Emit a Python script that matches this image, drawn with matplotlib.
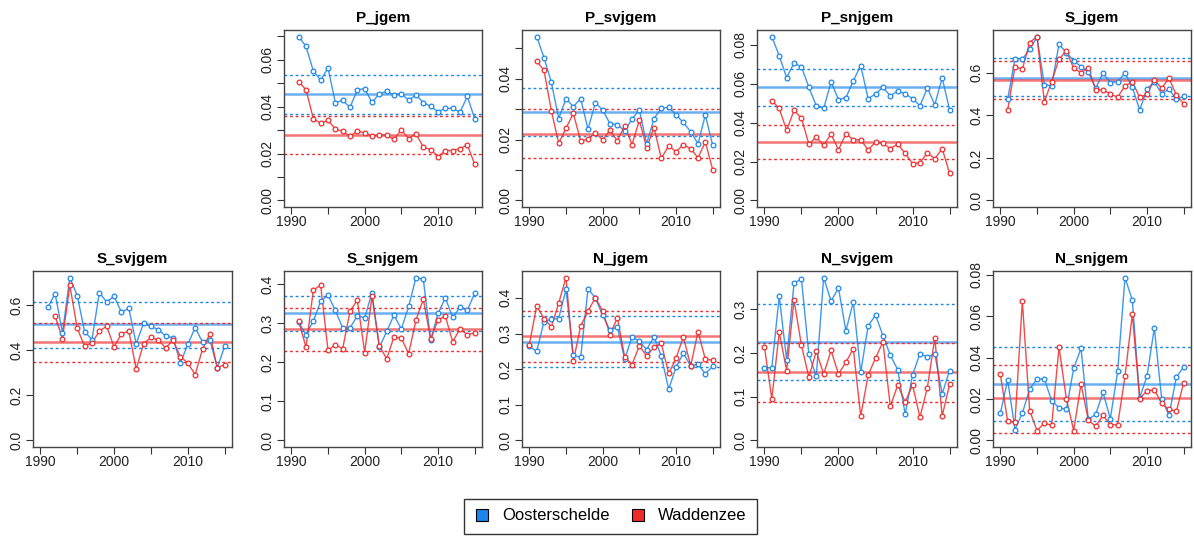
import numpy as np
import matplotlib
matplotlib.use("Agg")
from matplotlib import pyplot as plt
from matplotlib.lines import Line2D

# --------------------------------------------------------------------------------------------------------------------
# data: yearly values 1990..2015 (None = missing), Oosterschelde (os) / Waddenzee (wz)

years = list(range(1990, 2016))

p_jgem_os = [None, 0.0699, 0.0657, 0.0552, 0.0513, 0.0565, 0.0417, 0.0427, 0.0397, 0.0472, 0.0477, 0.0418, 0.0455,
             0.0465, 0.0451, 0.0455, 0.0427, 0.0451, 0.0417, 0.0401, 0.0379, 0.0393, 0.0393, 0.0376, 0.0444, 0.0349]
p_jgem_wz = [None, 0.0506, 0.0472, 0.0349, 0.0329, 0.0342, 0.0305, 0.0295, 0.0274, 0.0296, 0.0288, 0.0274, 0.0279,
             0.0279, 0.0260, 0.0301, 0.0264, 0.0285, 0.0227, 0.0217, 0.0187, 0.0213, 0.0213, 0.0221, 0.0237, 0.0155]

p_svjgem_os = [None, 0.0538, 0.0469, 0.0388, 0.0269, 0.0334, 0.0308, 0.0334, 0.0234, 0.0321, 0.0297, 0.0252, 0.0249,
               0.0228, 0.0267, 0.0297, 0.0186, 0.0269, 0.0302, 0.0306, 0.0281, 0.0256, 0.0226, 0.0186, 0.0281, 0.0181]
p_svjgem_wz = [None, 0.0457, 0.0427, 0.0295, 0.0188, 0.0237, 0.0286, 0.0195, 0.0201, 0.0221, 0.0199, 0.0231, 0.0195,
               0.0246, 0.0183, 0.0263, 0.0173, 0.0239, 0.0138, 0.0180, 0.0160, 0.0183, 0.0170, 0.0140, 0.0192, 0.0101]

p_snjgem_os = [None, 0.0843, 0.0744, 0.0632, 0.0706, 0.0687, 0.0582, 0.0487, 0.0473, 0.0610, 0.0519, 0.0528, 0.0615,
               0.0694, 0.0524, 0.0548, 0.0581, 0.0538, 0.0564, 0.0548, 0.0524, 0.0487, 0.0579, 0.0492, 0.0630, 0.0466]
p_snjgem_wz = [None, 0.0514, 0.0473, 0.0361, 0.0463, 0.0423, 0.0290, 0.0326, 0.0284, 0.0341, 0.0260, 0.0344, 0.0312,
               0.0312, 0.0260, 0.0300, 0.0295, 0.0266, 0.0291, 0.0242, 0.0190, 0.0195, 0.0245, 0.0214, 0.0267, 0.0139]

s_jgem_os = [None, 0.475, 0.666, 0.663, 0.709, 0.766, 0.544, 0.538, 0.733, 0.694, 0.656, 0.628, 0.602,
             0.527, 0.598, 0.553, 0.558, 0.598, 0.531, 0.425, 0.522, 0.558, 0.500, 0.523, 0.475, 0.488]
s_jgem_wz = [None, 0.425, 0.628, 0.616, 0.741, 0.769, 0.463, 0.558, 0.663, 0.702, 0.620, 0.600, 0.623,
             0.519, 0.519, 0.500, 0.484, 0.538, 0.556, 0.484, 0.498, 0.566, 0.527, 0.573, 0.495, 0.453]

s_svjgem_os = [None, 0.590, 0.652, 0.477, 0.723, 0.643, 0.483, 0.448, 0.655, 0.615, 0.640, 0.569, 0.586,
               0.429, 0.520, 0.506, 0.492, 0.463, 0.455, 0.344, 0.426, 0.501, 0.436, 0.448, 0.322, 0.418]
s_svjgem_wz = [None, None, 0.552, 0.452, 0.688, 0.498, 0.418, 0.433, 0.485, 0.507, 0.414, 0.473, 0.485,
               0.317, 0.429, 0.457, 0.445, 0.411, 0.445, 0.371, 0.344, 0.292, 0.405, 0.473, 0.322, 0.337]

s_snjgem_os = [None, 0.302, 0.271, 0.306, 0.356, 0.372, 0.333, 0.288, 0.288, 0.319, 0.314, 0.378, 0.238,
               0.279, 0.321, 0.285, 0.343, 0.417, 0.412, 0.256, 0.325, 0.365, 0.315, 0.341, 0.333, 0.377]
s_snjgem_wz = [None, 0.306, 0.238, 0.385, 0.397, 0.231, 0.245, 0.235, 0.331, 0.359, 0.225, 0.369, 0.242,
               0.209, 0.265, 0.262, 0.222, 0.309, 0.361, 0.259, 0.309, 0.318, 0.253, 0.285, 0.271, 0.275]

n_jgem_os = [0.264, 0.250, 0.333, 0.340, 0.342, 0.424, 0.239, 0.233, 0.425, 0.400, 0.351, 0.309, 0.319,
             0.228, 0.291, 0.278, 0.255, 0.291, 0.236, 0.144, 0.205, 0.245, 0.209, 0.214, 0.187, 0.208]
n_jgem_wz = [0.269, 0.377, 0.342, 0.319, 0.385, 0.457, 0.222, 0.321, 0.363, 0.400, 0.363, 0.297, 0.344,
             0.235, 0.213, 0.265, 0.237, 0.261, 0.272, 0.188, 0.230, 0.291, 0.209, 0.305, 0.228, 0.225]

n_svjgem_os = [0.166, 0.167, 0.330, 0.185, 0.360, 0.370, 0.197, 0.147, 0.373, 0.319, 0.349, 0.251, 0.317,
               0.156, 0.262, 0.287, 0.240, 0.195, 0.162, 0.060, 0.150, 0.199, 0.191, 0.198, 0.107, 0.160]
n_svjgem_wz = [0.215, 0.095, 0.248, 0.160, 0.321, 0.218, 0.145, 0.204, 0.152, 0.206, 0.152, 0.179, 0.210,
               0.056, 0.149, 0.189, 0.225, 0.078, 0.127, 0.088, 0.127, 0.053, 0.121, 0.234, 0.056, 0.129]

n_snjgem_os = [0.0131, 0.0292, 0.0053, 0.0132, 0.0248, 0.0297, 0.0297, 0.0192, 0.0158, 0.0150, 0.0348, 0.0445, 0.0102,
               0.0126, 0.0232, 0.0105, 0.0334, 0.0787, 0.0677, 0.0206, 0.0311, 0.0544, 0.0202, 0.0121, 0.0306, 0.0355]
n_snjgem_wz = [0.0319, 0.0092, 0.0089, 0.0673, 0.0144, 0.0048, 0.0084, 0.0073, 0.0450, 0.0202, 0.0048, 0.0273, 0.0098,
               0.0068, 0.0121, 0.0076, 0.0076, 0.0310, 0.0610, 0.0202, 0.0240, 0.0245, 0.0179, 0.0150, 0.0140, 0.0279]

# reference lines per panel: (mean, lower, upper) for os / wz
stats_os = {
    'P_jgem': (0.0452, 0.0369, 0.0536), 'P_svjgem': (0.0290, 0.0210, 0.0370),
    'P_snjgem': (0.0581, 0.0485, 0.0677), 'S_jgem': (0.575, 0.488, 0.667),
    'S_svjgem': (0.516, 0.410, 0.616), 'S_snjgem': (0.325, 0.279, 0.370),
    'N_jgem': (0.276, 0.205, 0.348), 'N_svjgem': (0.225, 0.139, 0.312),
    'N_snjgem': (0.0274, 0.0094, 0.0452),
}
stats_wz = {
    'P_jgem': (0.0281, 0.0200, 0.0360), 'P_svjgem': (0.0219, 0.0138, 0.0299),
    'P_snjgem': (0.0302, 0.0211, 0.0387), 'S_jgem': (0.563, 0.475, 0.655),
    'S_svjgem': (0.437, 0.349, 0.521), 'S_snjgem': (0.285, 0.229, 0.339),
    'N_jgem': (0.292, 0.220, 0.362), 'N_svjgem': (0.157, 0.089, 0.224),
    'N_snjgem': (0.0203, 0.0035, 0.0365),
}

# panel: name, os, wz, y tick step, labelled every n-th tick, tick format
panels = [
    ('P_jgem', p_jgem_os, p_jgem_wz, 0.01, 2, '%.2f'),
    ('P_svjgem', p_svjgem_os, p_svjgem_wz, 0.01, 2, '%.2f'),
    ('P_snjgem', p_snjgem_os, p_snjgem_wz, 0.02, 1, '%.2f'),
    ('S_jgem', s_jgem_os, s_jgem_wz, 0.2, 1, '%.1f'),
    ('S_svjgem', s_svjgem_os, s_svjgem_wz, 0.2, 1, '%.1f'),
    ('S_snjgem', s_snjgem_os, s_snjgem_wz, 0.1, 1, '%.1f'),
    ('N_jgem', n_jgem_os, n_jgem_wz, 0.1, 1, '%.1f'),
    ('N_svjgem', n_svjgem_os, n_svjgem_wz, 0.1, 1, '%.1f'),
    ('N_snjgem', n_snjgem_os, n_snjgem_wz, 0.02, 1, '%.2f'),
]

labels = ['Oosterschelde', 'Waddenzee']


# --------------------------------------------------------------------------------------------------------------------
# layout (pixel boxes: left, right, top, bottom)

W, H = 1194, 537
BLUE = '#1c86ee'
RED = '#ee2c2c'

cols = [(33, 232), (284, 482), (522, 720), (757, 957), (993, 1191)]
rows = [(30, 207), (271, 447)]

slots = [(0, 1), (0, 2), (0, 3), (0, 4), (1, 0), (1, 1), (1, 2), (1, 3), (1, 4)]

plt.rcParams['font.family'] = ['Liberation Sans', 'DejaVu Sans']

fig = plt.figure(figsize=(W / 100, H / 100), dpi=100)


def to_arr(values):
    return np.array([np.nan if v is None else v for v in values], dtype=float)


for (name, os_vals, wz_vals, step, every, fmt), (r, c) in zip(panels, slots):
    x0, x1 = cols[c]
    y0, y1 = rows[r]
    ax = fig.add_axes([x0 / W, 1 - y1 / H, (x1 - x0) / W, (y1 - y0) / H])

    os_arr = to_arr(os_vals)
    wz_arr = to_arr(wz_vals)

    for arr, col, stats in ((os_arr, BLUE, stats_os[name]), (wz_arr, RED, stats_wz[name])):
        ax.plot(years, arr, color=col, lw=1.0, alpha=0.85, zorder=3)
        ax.plot(years, arr, ls='none', marker='o', ms=3.4, mfc='white', mec=col, mew=0.9, zorder=4)

        mean, lo, hi = stats
        ax.axhline(mean, color=col, lw=1.8, alpha=0.65, zorder=2)
        ax.axhline(lo, color=col, lw=1.0, ls=(0, (2, 2)), zorder=2)
        ax.axhline(hi, color=col, lw=1.0, ls=(0, (2, 2)), zorder=2)

    top = max(np.nanmax(os_arr), np.nanmax(wz_arr))
    ax.set_xlim(1989, 2016)
    ax.set_ylim(-0.04 * top, 1.04 * top)

    # R style ticks
    ax.set_xticks([1990, 1995, 2000, 2005, 2010, 2015])
    ax.set_xticklabels(['1990', '', '2000', '', '2010', ''])

    yt = np.arange(0, top * 1.04 + 1e-9, step)
    ax.set_yticks(yt)
    ax.set_yticklabels([(fmt % v) if i % every == 0 else '' for i, v in enumerate(yt)],
                       rotation=90, va='center')

    ax.tick_params(direction='out', length=5, width=0.8, colors='#333333', labelsize=10, labelcolor='#222222')
    ax.tick_params(axis='x', pad=1)
    ax.tick_params(axis='y', pad=2)

    for sp in ax.spines.values():
        sp.set_color('#444444')
        sp.set_linewidth(1.0)

    ax.set_title(name, fontsize=11, fontweight='bold', pad=6)


# legend
handles = [Line2D([], [], ls='none', marker='s', ms=9, mfc=BLUE, mec='black', mew=0.8),
           Line2D([], [], ls='none', marker='s', ms=9, mfc=RED, mec='black', mew=0.8)]

leg = fig.legend(handles, labels, loc='center', bbox_to_anchor=(610.5 / W, 1 - 516 / H), ncol=2,
                 fontsize=12, frameon=True, fancybox=False, edgecolor='black', handletextpad=0.7,
                 columnspacing=1.2, borderpad=0.6, handlelength=1.0)
leg.get_frame().set_linewidth(1.0)

fig.savefig('out.png', dpi=100)
